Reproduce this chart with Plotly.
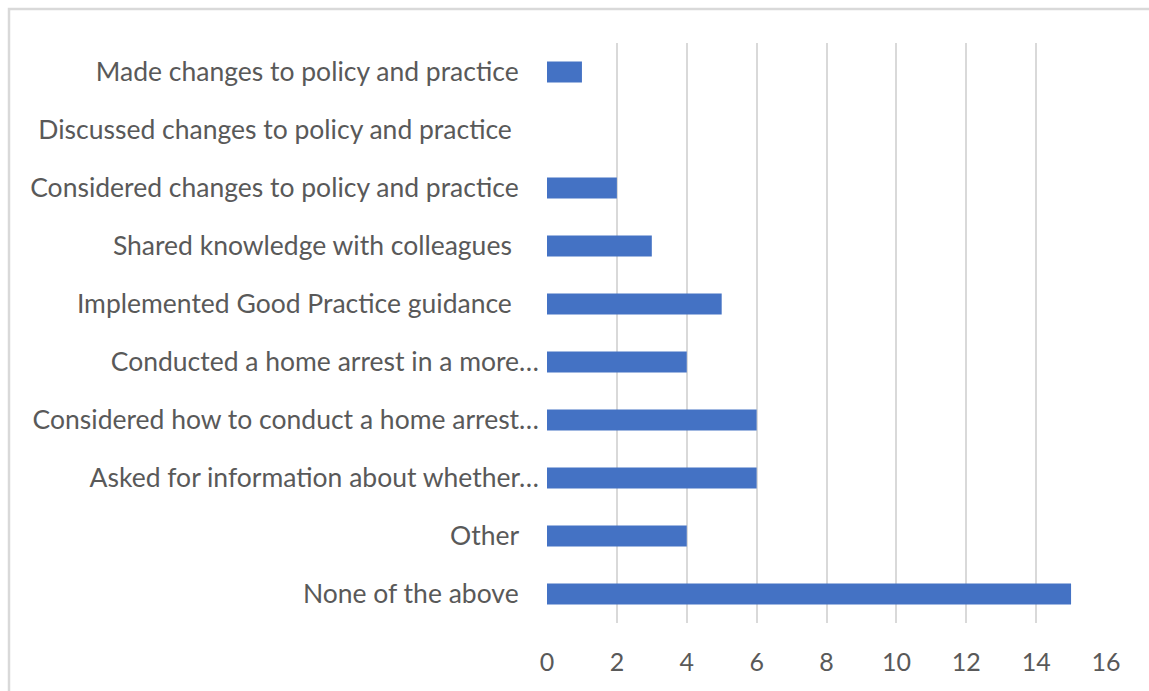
import plotly.graph_objects as go

# Survey responses: actions taken, listed top to bottom
categories = [
    "Made changes to policy and practice",
    "Discussed changes to policy and practice ",
    "Considered changes to policy and practice",
    "Shared knowledge with colleagues ",
    "Implemented Good Practice guidance ",
    "Conducted a home arrest in a more…",
    "Considered how to conduct a home arrest…",
    "Asked for information about whether…",
    "Other",
    "None of the above",
]
counts = [1, 0, 2, 3, 5, 4, 6, 6, 4, 15]
x_ticks = [0, 2, 4, 6, 8, 10, 12, 14, 16]

W, H = 1149, 691
L, R, T, B = 547, 43, 43, 68

# trailing pad so full-width labels sit a little further from the axis
def label_text(c):
    if c.endswith("…"):
        return c
    return c.rstrip() + ("\u00a0" * (4 if c.endswith(" ") else 3))

fig = go.Figure(
    go.Bar(
        x=counts,
        y=categories,
        orientation="h",
        marker=dict(color="#4472C4", line=dict(width=0)),
        width=0.36,
    )
)

fig.update_layout(
    width=W,
    height=H,
    margin=dict(l=L, r=R, t=T, b=B, pad=0),
    paper_bgcolor="white",
    plot_bgcolor="white",
    showlegend=False,
    font=dict(family="Lato", size=25, color="#595959"),
    xaxis=dict(
        range=[0, 16],
        tickvals=x_ticks,
        ticktext=[str(v) for v in x_ticks],
        showgrid=True,
        gridcolor="#D9D9D9",
        gridwidth=2,
        zeroline=False,
        showline=False,
        ticks="",
        ticklabelstandoff=22,
        tickfont=dict(size=25, color="#595959"),
        fixedrange=True,
    ),
    yaxis=dict(
        categoryorder="array",
        categoryarray=categories,
        autorange="reversed",
        tickvals=categories,
        ticktext=[label_text(c) for c in categories],
        showgrid=False,
        zeroline=False,
        showline=False,
        ticks="",
        ticklabelstandoff=7,
        tickfont=dict(size=26.5, color="#595959"),
        fixedrange=True,
    ),
    shapes=[
        # chart frame (top and left edges)
        dict(
            type="path",
            xref="paper",
            yref="paper",
            path="M {x1} {y0} L {x0} {y0} L {x0} {y1}".format(
                x0=(9 - L) / (W - L - R),
                y0=(H - B - 9) / (H - T - B),
                x1=(W + 20 - L) / (W - L - R),
                y1=(H - B - H - 20) / (H - T - B),
            ),
            line=dict(color="#D9D9D9", width=2.5),
        )
    ],
)

fig.write_html("out.html")
